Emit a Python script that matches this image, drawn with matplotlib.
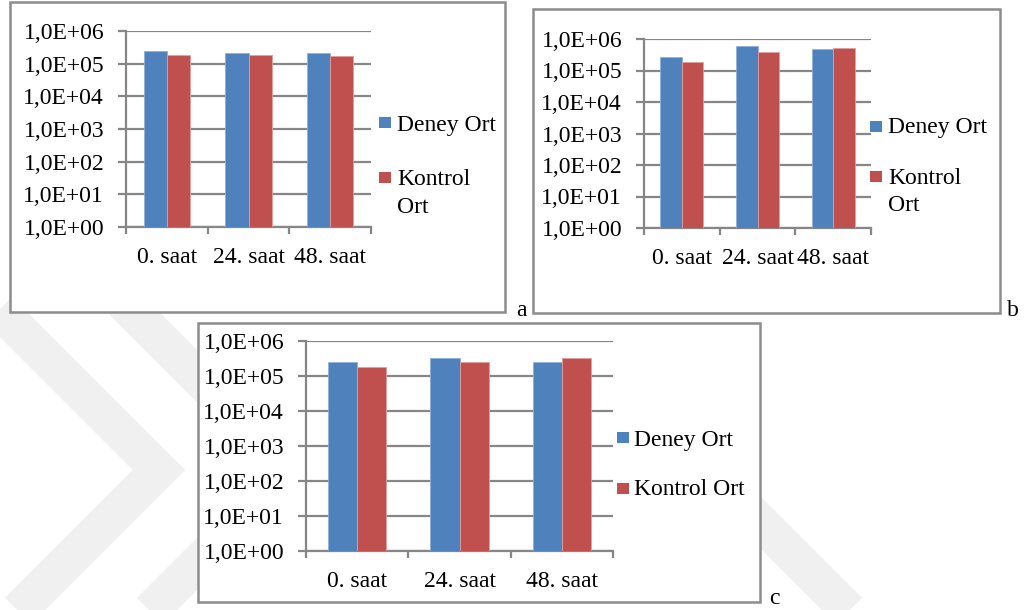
import numpy as np
import matplotlib
matplotlib.use('Agg')
import matplotlib.pyplot as plt
from matplotlib.patches import Rectangle
from matplotlib.lines import Line2D
from matplotlib.ticker import FixedLocator, NullLocator, FuncFormatter

# Ortalama değerler (log ölçek)
categories = ['0. saat', '24. saat', '48. saat']
series_names = ['Deney Ort', 'Kontrol Ort']

deney_a = [2.5e5, 2.05e5, 2.05e5]
kontrol_a = [1.8e5, 1.8e5, 1.75e5]

deney_b = [2.6e5, 6.0e5, 4.8e5]
kontrol_b = [1.8e5, 3.85e5, 5.3e5]

deney_c = [2.5e5, 3.3e5, 2.45e5]
kontrol_c = [1.77e5, 2.45e5, 3.2e5]

y_ticks = [1e0, 1e1, 1e2, 1e3, 1e4, 1e5, 1e6]

W, H = 1027, 610
BLUE = '#4f81bd'
RED = '#c0504d'
GRID = '#868686'
FONT = 'Liberation Serif'
FS = 17

plt.rcParams['font.family'] = FONT

fig = plt.figure(figsize=(W / 100, H / 100), dpi=100)
fig.patch.set_facecolor('white')


def fx(x):
    return x / W


def fy(y):
    return 1 - y / H


# arka plan filigranı
def watermark(points, width=37):
    xs = [fx(p[0]) for p in points]
    ys = [fy(p[1]) for p in points]
    fig.add_artist(Line2D(xs, ys, transform=fig.transFigure, color='#f0f0f0',
                          lw=width * 0.72, solid_joinstyle='miter',
                          solid_capstyle='butt', zorder=-3))


watermark([(-40, 271), (159, 470), (-40, 669)])
watermark([(92, 271), (291, 470), (92, 669)])
watermark([(640, 402), (900, 662)])


def frame(left, top, right, bottom):
    fig.add_artist(Rectangle((fx(left), fy(bottom)), fx(right - left), (bottom - top) / H,
                             transform=fig.transFigure, facecolor='white',
                             edgecolor='#8c8c8c', lw=1.8, zorder=-1))


def legend(sq_x, sq_top1, sq_top2, text_x, base1, lines2, bases2):
    for top, color in [(sq_top1, BLUE), (sq_top2, RED)]:
        fig.add_artist(Rectangle((fx(sq_x), fy(top + 11)), fx(12), 11 / H,
                                 transform=fig.transFigure, facecolor=color,
                                 edgecolor='none', zorder=2))
    fig.text(fx(text_x), fy(base1), series_names[0], fontsize=FS, va='baseline', ha='left')
    for line, base in zip(lines2, bases2):
        fig.text(fx(text_x), fy(base), line, fontsize=FS, va='baseline', ha='left')


def chart(left, top, right, bottom, deney, kontrol):
    ax = fig.add_axes([fx(left), fy(bottom), fx(right - left), (bottom - top) / H])
    ax.set_facecolor('none')
    x = np.arange(len(categories))
    w = 0.285
    ax.bar(x - w / 2, deney, w, bottom=1, color=BLUE, edgecolor='#8fb0d9', lw=0.6, zorder=3)
    ax.bar(x + w / 2, kontrol, w, bottom=1, color=RED, edgecolor='#e0a09e', lw=0.6, zorder=3)
    ax.set_yscale('log')
    ax.set_ylim(1, 1e6)
    ax.set_xlim(-0.5, len(categories) - 0.5)

    ax.yaxis.set_major_locator(FixedLocator(y_ticks))
    ax.yaxis.set_minor_locator(NullLocator())
    ax.yaxis.set_major_formatter(FuncFormatter(lambda v, p: '1,0E+%02d' % int(round(np.log10(v)))))
    ax.yaxis.grid(True, color=GRID, lw=1.6)
    ax.set_axisbelow(True)

    ax.set_xticks(x)
    ax.set_xticklabels(categories)
    ax.set_xticks(np.arange(len(categories) + 1) - 0.5, minor=True)
    ax.tick_params(axis='x', which='major', length=0, pad=14.5, labelsize=FS)
    ax.tick_params(axis='x', which='minor', length=5, width=1.6, color=GRID, direction='out')
    ax.tick_params(axis='y', which='major', length=5.8, width=1.6, color=GRID, pad=10, labelsize=FS)

    for side in ['top', 'right']:
        ax.spines[side].set_visible(False)
    for side in ['left', 'bottom']:
        ax.spines[side].set_color(GRID)
        ax.spines[side].set_linewidth(1.6)
    return ax


# a
frame(10, 2, 505, 312)
chart(126, 31, 371, 227, deney_a, kontrol_a)
legend(379, 117, 172, 397, 131, ['Kontrol', 'Ort'], [185, 213])
fig.text(fx(521.7), fy(316), 'a', fontsize=FS, ha='center', va='baseline')

# b
frame(533, 9, 1000, 313)
chart(644, 39, 871, 228, deney_b, kontrol_b)
legend(870, 121, 171, 888, 133, ['Kontrol', 'Ort'], [184, 211])
fig.text(fx(1013), fy(316), 'b', fontsize=FS, ha='center', va='baseline')

# c
frame(198, 323, 760, 602)
chart(306, 341, 613, 551, deney_c, kontrol_c)
legend(617, 432, 483, 634, 446, ['Kontrol Ort'], [495])
fig.text(fx(774.7), fy(604), 'c', fontsize=FS, ha='center', va='baseline')

fig.savefig('out.png', dpi=100, facecolor='white')
